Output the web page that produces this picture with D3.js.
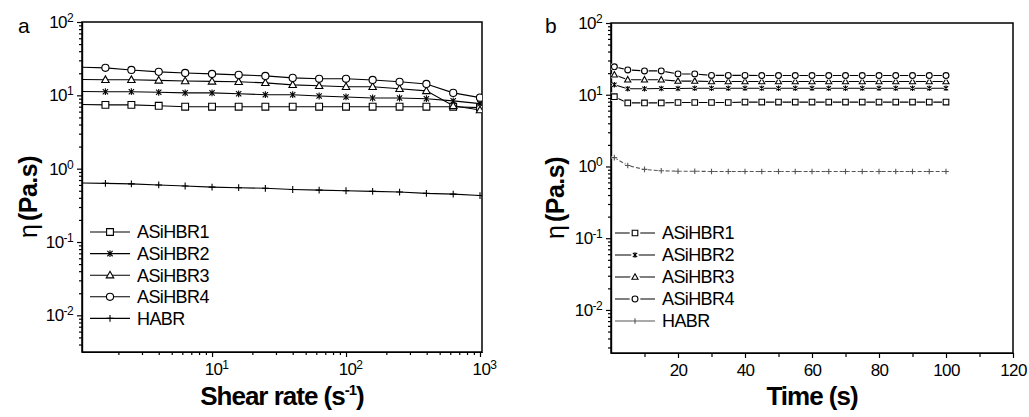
<!DOCTYPE html>
<html>
<head>
<meta charset="utf-8">
<script src="https://cdn.jsdelivr.net/npm/d3@7"></script>
<style>
  body { margin: 0; background: #fff; }
  svg { font-family: "Liberation Sans", Arial, sans-serif; }
  .axis path, .axis line { stroke: #000; stroke-width: 1.2; }
  .axis text { font-size: 17px; letter-spacing: -0.6px; fill: #000; }
  .frame { fill: none; stroke: #000; stroke-width: 1.5; }
</style>
</head>
<body>
<div id="chart"></div>
<script>
// ---- data ----
var seriesNames = ["ASiHBR1", "ASiHBR2", "ASiHBR3", "ASiHBR4", "HABR"];
var markerKinds = ["square", "asterisk", "triangle", "circle", "plus"];

// panel a: viscosity vs shear rate
var shearRate = [1, 1.6, 2.5, 4, 6.3, 10, 15.8, 25, 40, 63, 100, 158, 251, 398, 631, 1000];
var etaA1 = [7.5, 7.4, 7.4, 7.2, 7.0, 7.0, 7.0, 7.0, 7.0, 7.0, 7.0, 7.0, 7.0, 7.0, 7.0, 6.8];
var etaA2 = [11.3, 11.2, 11.2, 11.0, 10.8, 10.8, 10.5, 10.2, 10.2, 9.8, 9.5, 9.2, 9.2, 9.0, 8.4, 7.7];
var etaA3 = [16.5, 16.3, 16.3, 16.0, 15.7, 15.5, 15.3, 14.8, 13.9, 13.5, 13.1, 13.1, 12.3, 11.5, 7.2, 6.3];
var etaA4 = [24.2, 23.7, 22.2, 20.9, 20.2, 19.6, 19.0, 18.4, 17.3, 16.8, 16.8, 16.2, 15.3, 14.3, 10.8, 9.3];
var etaAH = [0.64, 0.63, 0.62, 0.60, 0.58, 0.56, 0.55, 0.54, 0.52, 0.51, 0.50, 0.49, 0.48, 0.46, 0.45, 0.43];

// panel b: viscosity vs time
var timeS = [1, 5, 10, 15, 20, 25, 30, 35, 40, 45, 50, 55, 60, 65, 70, 75, 80, 85, 90, 95, 100];
var etaB1 = [9.4, 7.7, 7.7, 7.7, 7.8, 7.8, 7.8, 7.8, 7.9, 7.9, 7.9, 7.9, 7.9, 7.9, 7.9, 7.9, 7.9, 7.9, 7.9, 7.9, 7.9];
var etaB2 = [13.8, 12.1, 12.1, 12.2, 12.2, 12.3, 12.3, 12.3, 12.3, 12.3, 12.3, 12.3, 12.3, 12.3, 12.3, 12.3, 12.3, 12.3, 12.3, 12.3, 12.3];
var etaB3 = [19.0, 16.2, 16.2, 16.2, 15.5, 15.5, 15.3, 15.3, 15.3, 15.3, 15.3, 15.3, 15.3, 15.3, 15.3, 15.3, 15.3, 15.3, 15.3, 15.3, 15.3];
var etaB4 = [24.5, 22.2, 21.5, 21.5, 19.5, 19.5, 18.6, 18.6, 18.6, 18.5, 18.5, 18.5, 18.5, 18.5, 18.5, 18.5, 18.5, 18.5, 18.5, 18.5, 18.5];
var etaBH = [1.33, 1.03, 0.91, 0.87, 0.86, 0.86, 0.85, 0.85, 0.85, 0.85, 0.85, 0.85, 0.85, 0.85, 0.85, 0.85, 0.85, 0.85, 0.85, 0.85, 0.85];

var timeMajor = [20, 40, 60, 80, 100, 120];
var timeMinor = [10, 30, 50, 70, 90, 110];

var svg = d3.select("#chart").append("svg")
    .attr("width", 1029)
    .attr("height", 417);

function logTicks(lo, hi) {
  var major = [], minor = [];
  for (var e = Math.floor(Math.log10(lo)); e <= Math.ceil(Math.log10(hi)); e++) {
    var b = Math.pow(10, e);
    if (b >= lo * 0.999 && b <= hi * 1.001) major.push(b);
    for (var k = 2; k < 10; k++) {
      var v = k * b;
      if (v >= lo && v <= hi) minor.push(v);
    }
  }
  return { major: major, minor: minor };
}

// turn "10^e" tick labels into 10 + superscript
function powLabels(sel) {
  sel.selectAll(".tick text").each(function(d) {
    var t = d3.select(this).text("");
    t.append("tspan").text("10");
    t.append("tspan").attr("dy", "-0.5em").attr("font-size", "12px")
      .text(Math.round(Math.log10(d)));
  });
}

function markerPath(kind, s) {
  if (kind === "square") return "M" + (-s) + "," + (-s) + "h" + 2 * s + "v" + 2 * s + "h" + (-2 * s) + "Z";
  if (kind === "triangle") return "M0," + (-1.15 * s) + "L" + (1.1 * s) + "," + (0.8 * s) + "L" + (-1.1 * s) + "," + (0.8 * s) + "Z";
  if (kind === "plus") return "M" + (-s) + ",0H" + s + "M0," + (-s) + "V" + s;
  if (kind === "asterisk") {
    var c = s * 0.78;
    return "M0," + (-s) + "V" + s + "M" + (-c) + "," + (-c) + "L" + c + "," + c + "M" + (-c) + "," + c + "L" + c + "," + (-c);
  }
  // circle
  return "M" + s + ",0A" + s + "," + s + " 0 1,1 " + (-s) + ",0A" + s + "," + s + " 0 1,1 " + s + ",0Z";
}

function drawMarker(g, kind, cx, cy, s, halo, color) {
  var d = markerPath(kind, kind === "circle" ? s * 1.05 : s);
  if (halo) {
    g.append("path").attr("d", d).attr("transform", "translate(" + cx + "," + cy + ")")
      .attr("fill", "#fff").attr("stroke", "#fff").attr("stroke-width", halo);
  }
  g.append("path").attr("d", d).attr("transform", "translate(" + cx + "," + cy + ")")
    .attr("fill", (kind === "plus" || kind === "asterisk") ? "none" : "#fff")
    .attr("stroke", color).attr("stroke-width", 1.1);
}

function drawPanel(p) {
  var b = p.box, x = p.x, y = p.y;
  var g = svg.append("g");

  svg.append("clipPath").attr("id", "clip-" + p.label)
    .append("rect")
    .attr("x", b.left).attr("y", b.top)
    .attr("width", b.right - b.left).attr("height", b.bottom - b.top);

  // y axis (log)
  var yt = logTicks(y.domain()[0], y.domain()[1]);
  g.append("g").attr("class", "axis")
    .attr("transform", "translate(" + b.left + ",0)")
    .call(d3.axisLeft(y).tickValues(yt.minor).tickSize(3).tickSizeOuter(0).tickFormat(""));
  g.append("g").attr("class", "axis")
    .attr("transform", "translate(" + b.left + ",0)")
    .call(d3.axisLeft(y).tickValues(yt.major).tickSize(5).tickSizeOuter(0).tickPadding(4))
    .call(powLabels);

  // x axis
  var xMinor = g.append("g").attr("class", "axis")
    .attr("transform", "translate(0," + b.bottom + ")");
  var xMajor = g.append("g").attr("class", "axis")
    .attr("transform", "translate(0," + b.bottom + ")");
  if (p.xLog) {
    var xt = logTicks(x.domain()[0], x.domain()[1]);
    xMinor.call(d3.axisBottom(x).tickValues(xt.minor).tickSize(3).tickSizeOuter(0).tickFormat(""));
    xMajor.call(d3.axisBottom(x).tickValues(xt.major).tickSize(5).tickSizeOuter(0).tickPadding(6))
      .call(powLabels);
    xMajor.selectAll(".tick text").attr("dx", 4);
  } else {
    xMinor.call(d3.axisBottom(x).tickValues(timeMinor).tickSize(4).tickSizeOuter(0).tickFormat(""));
    xMajor.call(d3.axisBottom(x).tickValues(timeMajor).tickSize(5).tickSizeOuter(0).tickPadding(6)
      .tickFormat(d3.format("d")));
  }

  g.append("rect").attr("class", "frame")
    .attr("x", b.left).attr("y", b.top)
    .attr("width", b.right - b.left).attr("height", b.bottom - b.top);

  // data
  var plot = g.append("g").attr("clip-path", "url(#clip-" + p.label + ")");
  var line = d3.line()
    .x(function(d) { return x(d[0]); })
    .y(function(d) { return y(d[1]); });

  p.series.forEach(function(s) {
    var pts = p.xs.map(function(v, i) { return [v, s.values[i]]; });
    plot.append("path").datum(pts)
      .attr("d", line)
      .attr("fill", "none")
      .attr("stroke", s.color)
      .attr("stroke-width", s.width)
      .attr("stroke-dasharray", s.dash || null);
  });
  p.series.forEach(function(s) {
    p.xs.forEach(function(v, i) {
      drawMarker(plot, s.kind, x(v), y(s.values[i]), p.msize, p.halo, s.color);
    });
  });

  // legend
  var lg = g.append("g");
  p.series.forEach(function(s, i) {
    var ly = p.legend.y + i * p.legend.dy;
    lg.append("line")
      .attr("x1", p.legend.x).attr("x2", p.legend.x + 40)
      .attr("y1", ly).attr("y2", ly)
      .attr("stroke", s.color).attr("stroke-width", 1.1);
    drawMarker(lg, s.kind, p.legend.x + 20, ly, p.msize, p.legend.halo, s.color);
    lg.append("text")
      .attr("x", p.legend.x + 47).attr("y", ly).attr("dy", "0.36em")
      .style("font-size", "18px").style("letter-spacing", "-0.6px")
      .text(s.name);
  });

  // panel letter
  g.append("text").attr("x", p.letter[0]).attr("y", p.letter[1])
    .style("font-size", "21px").text(p.label);

  // y title
  var yt2 = g.append("text")
    .attr("transform", "translate(" + p.yTitleX + "," + ((b.top + b.bottom) / 2 + 10) + ") rotate(-90)")
    .attr("text-anchor", "middle")
    .style("font-size", "25px");
  yt2.append("tspan").text("\u03b7");
  yt2.append("tspan").attr("dx", 3).style("font-weight", "bold").style("letter-spacing", "-0.5px").text("(Pa.s)");

  // x title
  var xt2 = g.append("text")
    .attr("x", (b.left + b.right) / 2).attr("y", 405)
    .attr("text-anchor", "middle")
    .style("font-size", "26px").style("font-weight", "bold").style("letter-spacing", "-1px");
  p.xTitle(xt2);
}

function makeSeries(vals, habrDash, habrColor) {
  return seriesNames.map(function(n, i) {
    return {
      name: n,
      kind: markerKinds[i],
      values: vals[i],
      color: (i === 4 && habrColor) ? habrColor : "#000",
      width: 1.1,
      dash: i === 4 ? habrDash : null
    };
  });
}

// panel a
var boxA = { left: 82, top: 22, right: 482, bottom: 352 };
drawPanel({
  label: "a",
  box: boxA,
  xLog: true,
  x: d3.scaleLog().domain([1.07, 1035]).range([boxA.left, boxA.right]),
  y: d3.scaleLog().domain([Math.pow(10, -2.5), 100]).range([boxA.bottom, boxA.top]),
  xs: shearRate,
  series: makeSeries([etaA1, etaA2, etaA3, etaA4, etaAH], null, null),
  msize: 3.4,
  halo: 0,
  legend: { x: 90, y: 232, dy: 21.6, halo: 0 },
  letter: [18, 33],
  yTitleX: 37,
  xTitle: function(t) {
    t.append("tspan").text("Shear rate (s");
    t.append("tspan").attr("dy", -10).style("font-size", "15px").text("-1");
    t.append("tspan").attr("dy", 10).text(")");
  }
});

// panel b
var boxB = { left: 611, top: 23, right: 1013, bottom: 353 };
drawPanel({
  label: "b",
  box: boxB,
  xLog: false,
  x: d3.scaleLinear().domain([0, 120]).range([boxB.left, boxB.right]),
  y: d3.scaleLog().domain([Math.pow(10, -2.6), 100]).range([boxB.bottom, boxB.top]),
  xs: timeS,
  series: makeSeries([etaB1, etaB2, etaB3, etaB4, etaBH], "4,2", "#555"),
  msize: 2.8,
  halo: 2.5,
  legend: { x: 615, y: 233, dy: 22, halo: 5 },
  letter: [545, 33],
  yTitleX: 564,
  xTitle: function(t) {
    t.text("Time (s)");
  }
});
</script>
</body>
</html>
